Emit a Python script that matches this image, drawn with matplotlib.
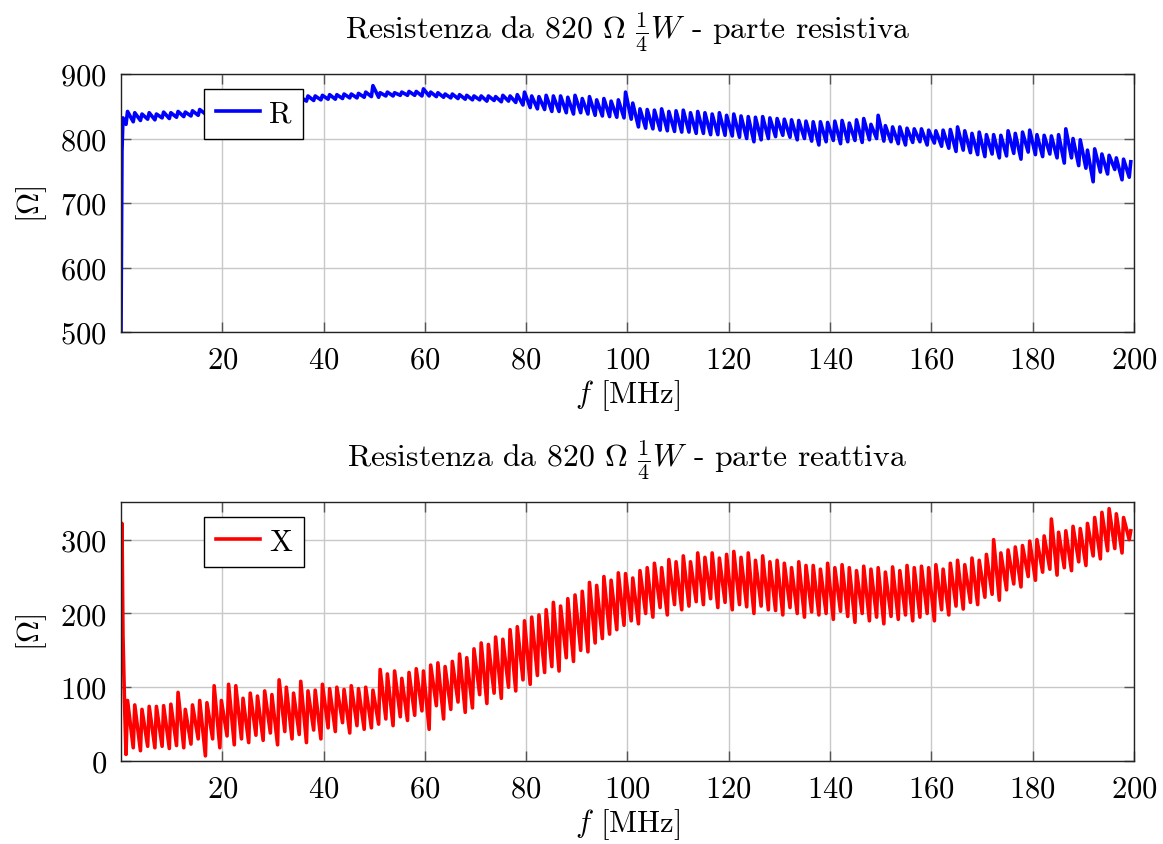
import numpy as np
import matplotlib
matplotlib.use('Agg')
import matplotlib.pyplot as plt

# Computer Modern look (cmr10 ships with matplotlib)
plt.rcParams['font.family'] = 'cmr10'
plt.rcParams['mathtext.fontset'] = 'cm'
plt.rcParams['axes.formatter.use_mathtext'] = True
plt.rcParams['font.size'] = 22

# frequency grid: one sawtooth cycle every ~1.425 MHz, trough then peak
f_start = 1.0
f_step = 1.425
f_rise = 0.3

# first few samples near 0 MHz (start-up transient)
f_head = [0.0, 0.2, 0.4, 0.7]
R_head = [480, 780, 832, 828]
X_head = [170, 322, 170, 80]

# resistive part, troughs and peaks per cycle [Ohm]
R_trough = [
    822, 826, 828, 830, 829, 832, 831, 833, 834, 835,
    836, 838, 839, 841, 843, 844, 846, 847, 849, 850,
    852, 853, 855, 856, 857, 858, 859, 860, 861, 861,
    862, 863, 863, 864, 865, 864, 866, 866, 867, 867,
    867, 866, 866, 865, 864, 863, 862, 861, 860, 860,
    858, 859, 857, 858, 856, 852, 848, 846, 845, 842,
    842, 840, 838, 840, 838, 836, 835, 834, 833, 832,
    830, 818, 816, 815, 813, 812, 811, 810, 810, 808,
    808, 806, 806, 805, 804, 802, 800, 795, 798, 800,
    803, 805, 802, 798, 800, 796, 790, 795, 797, 792,
    795, 797, 794, 798, 800, 796, 795, 792, 790, 794,
    795, 790, 793, 788, 785, 780, 782, 778, 775, 772,
    776, 770, 773, 777, 768, 779, 775, 772, 776, 770,
    762, 770, 758, 754, 733, 748, 745, 752, 736, 740,
]
R_peak = [
    842, 840, 838, 840, 838, 841, 840, 842, 841, 843,
    845, 847, 848, 850, 852, 853, 855, 856, 858, 859,
    861, 862, 863, 865, 864, 866, 866, 867, 868, 868,
    869, 869, 870, 872, 882, 871, 872, 871, 872, 873,
    873, 877, 872, 871, 869, 869, 868, 867, 866, 866,
    866, 865, 867, 866, 868, 872, 866, 865, 867, 866,
    866, 864, 867, 862, 865, 860, 862, 858, 860, 872,
    855, 846, 845, 844, 846, 842, 843, 844, 840, 842,
    840, 838, 840, 836, 838, 835, 834, 833, 834, 832,
    831, 830, 829, 828, 827, 826, 826, 825, 827, 828,
    824, 829, 831, 822, 836, 820, 818, 818, 816, 815,
    815, 813, 812, 813, 814, 818, 812, 808, 810, 806,
    806, 805, 812, 808, 810, 813, 806, 805, 804, 806,
    815, 800, 798, 782, 784, 776, 774, 770, 768, 764,
]

# reactive part, troughs and peaks per cycle [Ohm]
X_trough = [
    9, 18, 14, 20, 18, 20, 17, 21, 18, 23,
    30, 7, 30, 18, 34, 22, 30, 25, 35, 28,
    38, 22, 40, 30, 36, 25, 42, 30, 45, 40,
    52, 38, 48, 43, 45, 50, 57, 48, 60, 55,
    62, 68, 43, 75, 57, 70, 80, 66, 72, 90,
    78, 92, 85, 100, 95, 110, 104, 116, 120, 128,
    122, 140, 135, 150, 148, 160, 166, 172, 178, 184,
    190, 186, 200, 195, 208, 198, 212, 205, 210, 216,
    212, 220, 208, 215, 205, 212, 209, 200, 210, 205,
    204, 198, 208, 200, 195, 202, 198, 200, 192, 203,
    196, 188, 200, 190, 195, 186, 196, 192, 198, 190,
    195, 200, 190, 205, 198, 210, 206, 215, 212, 222,
    226, 218, 232, 240, 236, 250, 245, 256, 260, 252,
    262, 258, 270, 265, 278, 274, 285, 288, 282, 300,
]
X_peak = [
    82, 76, 70, 74, 74, 75, 77, 93, 70, 76,
    82, 79, 102, 82, 104, 102, 85, 92, 88, 95,
    90, 110, 100, 92, 108, 95, 96, 104, 98, 100,
    97, 102, 98, 100, 96, 124, 118, 122, 112, 120,
    125, 122, 130, 133, 128, 135, 145, 140, 152, 160,
    158, 168, 165, 178, 182, 190, 195, 198, 205, 215,
    210, 220, 225, 230, 242, 238, 250, 245, 255, 254,
    248, 258, 262, 268, 262, 273, 270, 278, 270, 282,
    276, 282, 275, 280, 284, 276, 282, 272, 278, 270,
    272, 268, 262, 270, 265, 265, 260, 268, 262, 266,
    262, 258, 264, 260, 262, 256, 263, 258, 265, 262,
    264, 262, 266, 260, 268, 272, 266, 275, 272, 280,
    300, 282, 286, 290, 292, 298, 300, 305, 328, 310,
    312, 318, 315, 322, 330, 337, 342, 335, 330, 312,
]


def build_series(head, trough, peak):
    n = len(trough)
    f_t = f_start + f_step * np.arange(n)
    f_p = f_t + f_rise
    f = np.concatenate([f_head, np.column_stack([f_t, f_p]).ravel()])
    v = np.concatenate([head, np.column_stack([trough, peak]).ravel()])
    return f, v


f_R, R = build_series(R_head, R_trough, R_peak)
f_X, X = build_series(X_head, X_trough, X_peak)


def style_axes(ax, title):
    ax.grid(True, color='#c8c8c8', linewidth=1.0)
    ax.set_axisbelow(True)
    ax.tick_params(direction='in', top=True, right=True, length=7,
                   width=1.0, color='#555555', pad=10)
    for s in ax.spines.values():
        s.set_linewidth(1.0)
        s.set_color('#222222')
    ax.set_xlim(0, 200)
    ax.set_xticks(np.arange(20, 201, 20))
    ax.set_xlabel(r'$f$ [MHz]', labelpad=3)
    ax.set_ylabel(r'[$\Omega$]', labelpad=8)
    ax.set_title(title, fontsize=22.8, pad=26)
    leg = ax.legend(loc='upper left', bbox_to_anchor=(0.082, 0.943), fancybox=False,
                    edgecolor='black', framealpha=1, handlelength=1.45,
                    handletextpad=0.3, borderpad=0.38, borderaxespad=0)
    leg.get_frame().set_linewidth(1.0)


fig = plt.figure(figsize=(11.63, 8.45), dpi=100)
ax1 = fig.add_axes([0.1040, 0.6059, 0.8710, 0.3053])
ax2 = fig.add_axes([0.1040, 0.0982, 0.8710, 0.3065])

ax1.plot(f_R, R, color='blue', linewidth=2.6, label='R')
ax1.set_ylim(500, 900)
ax1.set_yticks([500, 600, 700, 800, 900])
style_axes(ax1, r'Resistenza da 820 $\Omega$ $\frac{1}{4}W$ - parte resistiva')

ax2.plot(f_X, X, color='red', linewidth=2.6, label='X')
ax2.set_ylim(0, 351)
ax2.set_yticks([0, 100, 200, 300])
style_axes(ax2, r'Resistenza da 820 $\Omega$ $\frac{1}{4}W$ - parte reattiva')

plt.savefig('out.png', dpi=100)
